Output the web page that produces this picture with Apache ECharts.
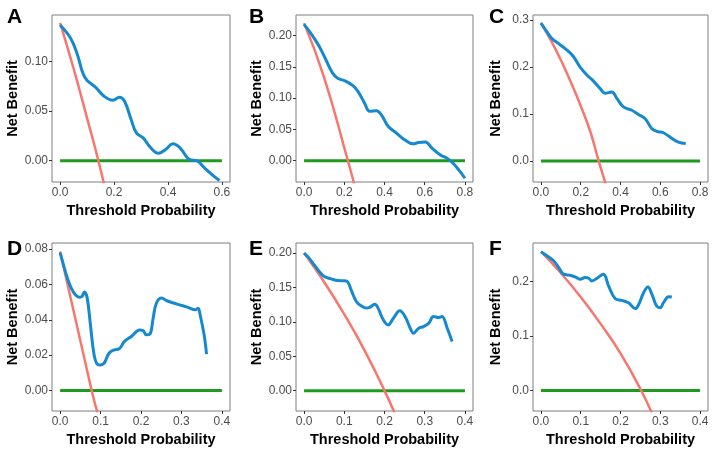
<!DOCTYPE html>
<html>
<head>
<meta charset="utf-8">
<script src="https://cdn.jsdelivr.net/npm/echarts@6/dist/echarts.min.js"></script>
<style>
  html, body { margin: 0; padding: 0; background: #fff; }
  #main { width: 714px; height: 457px; }
</style>
</head>
<body>
<div id="main"></div>
<script>
// 数据：每个面板的模型曲线（蓝）、Treat all（红），横轴终点（绿线）
const blueA = [[0,0.137],[0.038,0.124],[0.063,0.108],[0.092,0.084],[0.132,0.074],[0.163,0.065],[0.195,0.061],[0.22,0.064],[0.239,0.060],[0.264,0.041],[0.283,0.028],[0.308,0.023],[0.333,0.014],[0.365,0.0075],[0.39,0.011],[0.419,0.017],[0.446,0.0125],[0.478,0.0014],[0.509,-0.0003],[0.537,-0.0077],[0.572,-0.016],[0.591,-0.020]];
const redA = [[0,0.139],[0.05,0.093],[0.1,0.043],[0.142,0],[0.17,-0.032]];

const blueB = [[0,0.218],[0.033,0.204],[0.075,0.183],[0.109,0.161],[0.142,0.140],[0.167,0.132],[0.209,0.127],[0.243,0.120],[0.268,0.111],[0.301,0.092],[0.326,0.079],[0.36,0.080],[0.385,0.073],[0.418,0.055],[0.46,0.044],[0.502,0.033],[0.541,0.027],[0.569,0.029],[0.603,0.030],[0.636,0.020],[0.678,0.009],[0.711,0.004],[0.741,-0.004],[0.77,-0.015],[0.8,-0.028]];
const redB = [[0,0.22],[0.1,0.133],[0.218,0],[0.26,-0.05]];

const blueC = [[0,0.294],[0.03,0.275],[0.055,0.261],[0.089,0.250],[0.131,0.236],[0.164,0.222],[0.197,0.200],[0.231,0.183],[0.264,0.170],[0.298,0.154],[0.323,0.144],[0.356,0.147],[0.382,0.133],[0.415,0.115],[0.457,0.108],[0.49,0.099],[0.524,0.090],[0.557,0.069],[0.582,0.063],[0.616,0.060],[0.658,0.048],[0.691,0.040],[0.728,0.037]];
const redC = [[0,0.294],[0.05,0.257],[0.1,0.215],[0.15,0.168],[0.2,0.117],[0.25,0.06],[0.29,0],[0.33,-0.055]];

const blueD = [[0,0.0781],[0.0084,0.0711],[0.0167,0.0645],[0.0276,0.0579],[0.0377,0.0542],[0.0477,0.0528],[0.054,0.0532],[0.06,0.0557],[0.067,0.0523],[0.075,0.0372],[0.084,0.0202],[0.092,0.0149],[0.1,0.0145],[0.109,0.0155],[0.121,0.0211],[0.134,0.023],[0.146,0.0236],[0.159,0.0277],[0.176,0.0306],[0.197,0.0343],[0.205,0.034],[0.213,0.0315],[0.222,0.0319],[0.23,0.0409],[0.238,0.0494],[0.251,0.0523],[0.264,0.0508],[0.289,0.0489],[0.314,0.0472],[0.335,0.0457],[0.341,0.0466],[0.347,0.0419],[0.356,0.0315],[0.362,0.0206]];
const redD = [[0,0.0787],[0.078,0],[0.095,-0.0145]];

const blueE = [[0,0.200],[0.0126,0.1927],[0.0251,0.183],[0.0377,0.1733],[0.0502,0.166],[0.067,0.1626],[0.0837,0.160],[0.1,0.1597],[0.109,0.1578],[0.117,0.1466],[0.13,0.1296],[0.142,0.1233],[0.155,0.120],[0.163,0.121],[0.176,0.1257],[0.184,0.120],[0.197,0.103],[0.209,0.0956],[0.222,0.1053],[0.238,0.116],[0.251,0.1078],[0.264,0.0908],[0.272,0.0835],[0.285,0.0908],[0.297,0.0932],[0.31,0.098],[0.322,0.1078],[0.335,0.1063],[0.343,0.1078],[0.356,0.0908],[0.368,0.0714]];
const redE = [[0,0.2],[0.05,0.158],[0.1,0.111],[0.15,0.059],[0.2,0],[0.23,-0.039]];

const blueF = [[0,0.254],[0.015,0.2466],[0.0318,0.2374],[0.0444,0.2252],[0.0569,0.2129],[0.0736,0.211],[0.0862,0.208],[0.0987,0.2037],[0.111,0.2067],[0.12,0.2055],[0.128,0.2006],[0.141,0.2055],[0.157,0.2129],[0.17,0.1914],[0.187,0.168],[0.203,0.165],[0.22,0.1607],[0.237,0.150],[0.245,0.1564],[0.258,0.179],[0.269,0.1896],[0.279,0.176],[0.291,0.1546],[0.3,0.1515],[0.308,0.1607],[0.321,0.1718],[0.329,0.1712]];
const redF = [[0,0.254],[0.05,0.215],[0.1,0.171],[0.15,0.122],[0.2,0.068],[0.252,0],[0.29,-0.06]];

// 刻度
const xTicks6 = [0, 0.2, 0.4, 0.6];
const xTicks8 = [0, 0.2, 0.4, 0.6, 0.8];
const xTicks4 = [0, 0.1, 0.2, 0.3, 0.4];
const yTicksA = [0, 0.05, 0.10];
const yTicksB = [0, 0.05, 0.10, 0.15, 0.20];
const yTicksC = [0, 0.1, 0.2, 0.3];
const yTicksD = [0, 0.02, 0.04, 0.06, 0.08];
const yTicksE = [0, 0.05, 0.10, 0.15, 0.20];
const yTicksF = [0, 0.1, 0.2];

const panels = [
    { letter: 'A', box: [52, 15, 178, 167], x: [-0.03, 0.63], y: [-0.0215, 0.147], xt: xTicks6, yt: yTicksA, yd: 2, xEnd: 0.6, blue: blueA, red: redA },
    { letter: 'B', box: [296, 15, 177, 167], x: [-0.04, 0.84], y: [-0.034, 0.233], xt: xTicks8, yt: yTicksB, yd: 2, xEnd: 0.8, blue: blueB, red: redB },
    { letter: 'C', box: [533, 15, 175, 167], x: [-0.04, 0.84], y: [-0.045, 0.311], xt: xTicks8, yt: yTicksC, yd: 1, xEnd: 0.8, blue: blueC, red: redC },
    { letter: 'D', box: [52, 243, 178, 168], x: [-0.02, 0.42], y: [-0.0116, 0.0835], xt: xTicks4, yt: yTicksD, yd: 2, xEnd: 0.4, blue: blueD, red: redD },
    { letter: 'E', box: [296, 243, 177, 168], x: [-0.02, 0.42], y: [-0.0296, 0.2147], xt: xTicks4, yt: yTicksE, yd: 2, xEnd: 0.4, blue: blueE, red: redE },
    { letter: 'F', box: [533, 243, 175, 168], x: [-0.02, 0.42], y: [-0.0375, 0.270], xt: xTicks4, yt: yTicksF, yd: 1, xEnd: 0.4, blue: blueF, red: redF }
];
const letterPos = [[7, 7], [249, 7], [489, 7], [7, 239], [249, 239], [489, 239]];

const FONT = 'Liberation Sans, Arial, sans-serif';
const grids = [], xAxes = [], yAxes = [], series = [], titles = [];

panels.forEach((p, i) => {
    grids.push({
        left: p.box[0], top: p.box[1], width: p.box[2], height: p.box[3],
        show: true, borderColor: '#7f7f7f', borderWidth: 1, backgroundColor: 'transparent'
    });
    xAxes.push({
        type: 'value', gridIndex: i, min: p.x[0], max: p.x[1],
        axisLine: { show: false, onZero: false },
        splitLine: { show: false },
        axisTick: { show: true, length: 3, customValues: p.xt, lineStyle: { color: '#333' } },
        axisLabel: { customValues: p.xt, margin: 5, color: '#4d4d4d', fontSize: 12, fontFamily: FONT,
            formatter: v => v.toFixed(1) },
        name: 'Threshold Probability', nameLocation: 'middle', nameGap: 21,
        nameTextStyle: { fontSize: 14.5, fontWeight: 'bold', color: '#000', fontFamily: FONT }
    });
    yAxes.push({
        type: 'value', gridIndex: i, min: p.y[0], max: p.y[1],
        axisLine: { show: false, onZero: false },
        splitLine: { show: false },
        axisTick: { show: true, length: 3, customValues: p.yt, lineStyle: { color: '#333' } },
        axisLabel: { customValues: p.yt, margin: 4, color: '#4d4d4d', fontSize: 12, fontFamily: FONT,
            formatter: v => v.toFixed(p.yd) },
        name: 'Net Benefit', nameLocation: 'middle', nameGap: 30,
        nameTextStyle: { fontSize: 14.5, fontWeight: 'bold', color: '#000', fontFamily: FONT }
    });
    series.push({
        type: 'line', xAxisIndex: i, yAxisIndex: i, data: [[0, 0], [p.xEnd, 0]],
        symbol: 'none', lineStyle: { color: '#1f9a1f', width: 3 }, z: 2
    });
    series.push({
        type: 'line', xAxisIndex: i, yAxisIndex: i, data: p.red, smooth: true, clip: true,
        symbol: 'none', lineStyle: { color: '#f8766d', width: 2.5 }, z: 3
    });
    series.push({
        type: 'line', xAxisIndex: i, yAxisIndex: i, data: p.blue, smooth: 0.4, clip: true,
        symbol: 'none', lineStyle: { color: '#1589d0', width: 3 }, z: 4
    });
    titles.push({
        text: p.letter, left: letterPos[i][0], top: letterPos[i][1], padding: 0,
        textStyle: { fontSize: 21, fontWeight: 'bold', color: '#000', fontFamily: FONT }
    });
});

const chart = echarts.init(document.getElementById('main'));
chart.setOption({
    animation: false,
    backgroundColor: '#fff',
    title: titles,
    grid: grids,
    xAxis: xAxes,
    yAxis: yAxes,
    series: series
});
</script>
</body>
</html>
